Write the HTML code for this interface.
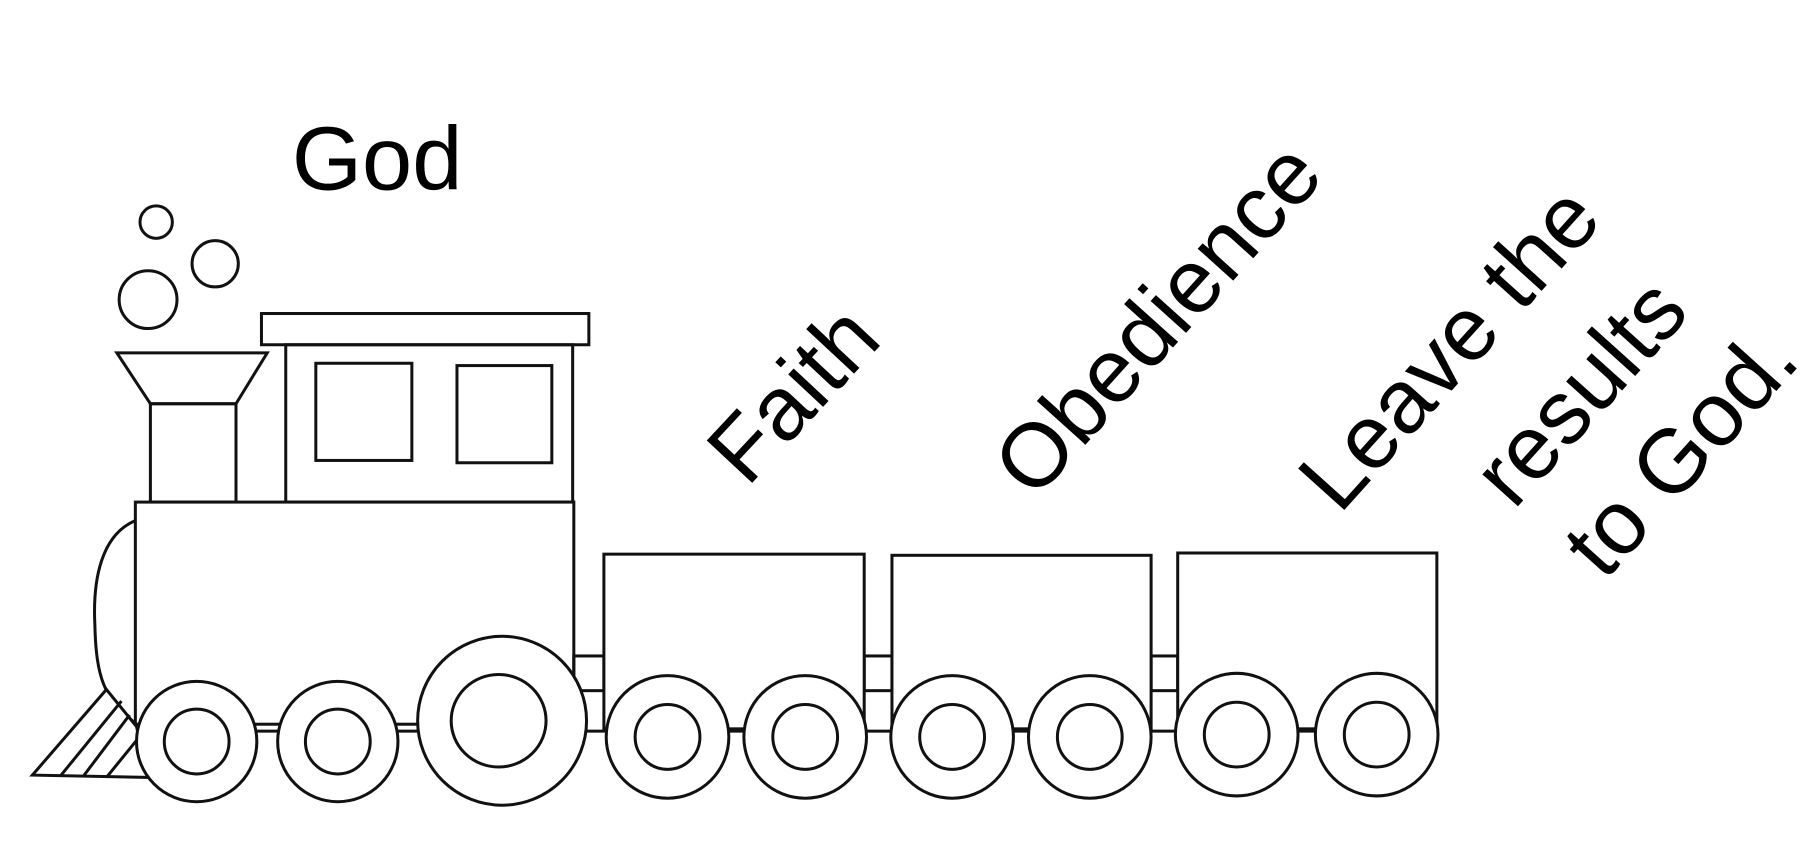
<!DOCTYPE html>
<html><head><style>html,body{margin:0;padding:0;background:#fff;}svg{display:block}</style></head>
<body>
<svg width="1814" height="848" viewBox="0 0 1568 733" preserveAspectRatio="none" xmlns="http://www.w3.org/2000/svg">
<g fill="none" stroke="#111" stroke-width="2.6">
<circle cx="135" cy="192" r="14"/>
<circle cx="186" cy="228" r="20"/>
<circle cx="128" cy="259" r="25"/>
<polygon points="101,305 231,305 204,349 130,349" fill="#fff"/>
<rect x="130" y="349" width="74" height="85"/>
<rect x="226" y="271" width="283" height="27"/>
<rect x="247" y="298" width="248" height="136"/>
<rect x="273" y="314" width="83" height="84"/>
<rect x="395" y="316" width="82" height="84"/>
<path d="M117,450 C88,462 80,500 82,540 C83,585 90,605 117,625"/>
<rect x="117" y="434" width="379" height="192" fill="#fff"/>
<path d="M28,670 L92,596 L118,628 L128,672 Z" fill="#fff"/>
<line x1="52" y1="671" x2="105" y2="606"/>
<line x1="72" y1="671" x2="112" y2="618"/>
<line x1="92" y1="672" x2="118" y2="640"/>
<rect x="496" y="567" width="26" height="30"/>
<rect x="747" y="567" width="24" height="30"/>
<rect x="995" y="567" width="23" height="30"/>
<rect x="522" y="479" width="225" height="151" fill="#fff"/>
<rect x="771" y="480" width="224" height="150" fill="#fff"/>
<rect x="1018" y="478" width="224" height="152" fill="#fff"/>
<line x1="170" y1="632" x2="1190" y2="632"/>
<g fill="#fff">
<circle cx="170" cy="641" r="52"/><circle cx="170" cy="641" r="28"/>
<circle cx="292" cy="641" r="52"/><circle cx="292" cy="641" r="28"/>
<ellipse cx="434" cy="623" rx="73" ry="73"/><ellipse cx="431" cy="623" rx="41" ry="40"/>
<circle cx="577" cy="637" r="53"/><circle cx="577" cy="637" r="28"/>
<circle cx="696" cy="637" r="53"/><circle cx="696" cy="637" r="28"/>
<circle cx="823" cy="637" r="53"/><circle cx="823" cy="637" r="28"/>
<circle cx="942" cy="637" r="53"/><circle cx="942" cy="637" r="28"/>
<circle cx="1069" cy="635" r="53"/><circle cx="1069" cy="635" r="28"/>
<circle cx="1190" cy="635" r="53"/><circle cx="1190" cy="635" r="28"/>
</g>
</g>
<g font-family="Liberation Sans, sans-serif" font-size="78" fill="#000" text-anchor="middle">
<text x="326" y="164">God</text>
<text transform="translate(685,340) rotate(-47)" dy="0.35em">Faith</text>
<text transform="translate(1000,275) rotate(-48)" dy="0.35em">Obedience</text>
<text transform="translate(1252,300) rotate(-48)" dy="0.35em">Leave the</text>
<text transform="translate(1365,338) rotate(-48)" dy="0.35em">results</text>
<text transform="translate(1452,390) rotate(-48)" dy="0.35em">to God.</text>
</g>
</svg>
</body></html>
